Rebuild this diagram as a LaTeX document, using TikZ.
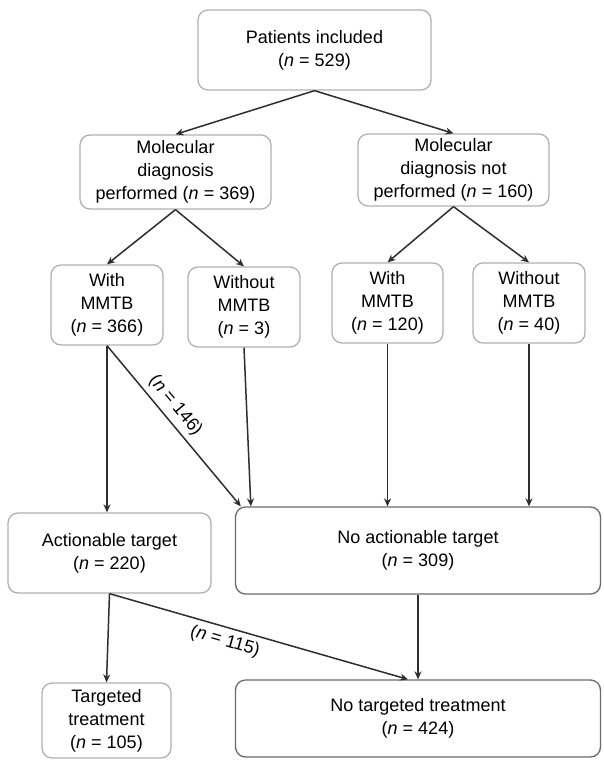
\documentclass[tikz,border=0pt]{standalone}
\usepackage{fontspec}
\setmainfont{Liberation Sans}
\usetikzlibrary{arrows.meta}
\definecolor{boxgray}{HTML}{B0B0B0}
\definecolor{boxdark}{HTML}{6A6A6A}
\definecolor{arrowgray}{HTML}{2E2E2E}
\begin{document}
\begin{tikzpicture}[x=1pt,y=-1pt,
        box/.style={draw=boxgray,line width=1.3pt,rounded corners=10pt,align=center,inner sep=0pt,
          font=\fontsize{18}{23}\selectfont},
        darkbox/.style={box,draw=boxdark},
        arr/.style={draw=arrowgray,line width=1.5pt,-{Stealth[length=8pt,width=7pt]}},
        lbl/.style={font=\fontsize{18}{23}\selectfont,sloped,inner sep=5pt}]
        \useasboundingbox (0,0) rectangle (603,760);
        \node[box,minimum width=233,minimum height=80] (incl) at (314.5,50) {Patients included\\(\textit{n} = 529)};
        \node[box,minimum width=191,minimum height=74] (perf) at (175.5,172) {Molecular\\diagnosis\\performed (\textit{n} = 369)};
        \node[box,minimum width=191,minimum height=72] (notperf) at (453.5,170) {Molecular\\diagnosis not\\performed (\textit{n} = 160)};
        \node[box,minimum width=112,minimum height=80] (with1) at (107,305) {With\\MMTB\\(\textit{n} = 366)};
        \node[box,minimum width=112,minimum height=80] (wo1) at (244,307) {Without\\MMTB\\(\textit{n} = 3)};
        \node[box,minimum width=111,minimum height=80] (with2) at (387.5,303) {With\\MMTB\\(\textit{n} = 120)};
        \node[box,minimum width=112,minimum height=80] (wo2) at (529,303) {Without\\MMTB\\(\textit{n} = 40)};
        \node[box,minimum width=203,minimum height=80] (act) at (109.5,553) {Actionable target\\(\textit{n} = 220)};
        \node[darkbox,minimum width=365,minimum height=87] (noact) at (418,550.5) {No actionable target\\(\textit{n} = 309)};
        \node[box,minimum width=129,minimum height=75] (targ) at (106.5,720.5) {Targeted\\treatment\\(\textit{n} = 105)};
        \node[darkbox,minimum width=365,minimum height=77] (notarg) at (418,718.5) {No targeted treatment\\(\textit{n} = 424)};
        \draw[arr] (incl.south) -- (perf.north);
        \draw[arr] (incl.south) -- (notperf.north);
        \draw[arr] (perf.south) -- (with1.north);
        \draw[arr] (perf.south) -- (wo1.north);
        \draw[arr] (notperf.south) -- (with2.north);
        \draw[arr] (notperf.south) -- (wo2.north);
        \draw[arr] (with1.south) -- (with1.south |- act.north);
        \draw[arr] (with1.south) -- node[lbl,above,pos=0.43] {(\textit{n} = 146)} ([xshift=6]noact.north west);
        \draw[arr] (wo1.south) -- ([xshift=16]noact.north west);
        \draw[arr] (with2.south) -- (with2.south |- noact.north);
        \draw[arr] (wo2.south) -- (wo2.south |- noact.north);
        \draw[arr] (act.south) -- (targ.north);
        \draw[arr] (act.south) -- node[lbl,below,pos=0.4] {(\textit{n} = 115)} ([xshift=-10]notarg.north);
        \draw[arr] (noact.south) -- (notarg.north);
      \end{tikzpicture}
\end{document}
